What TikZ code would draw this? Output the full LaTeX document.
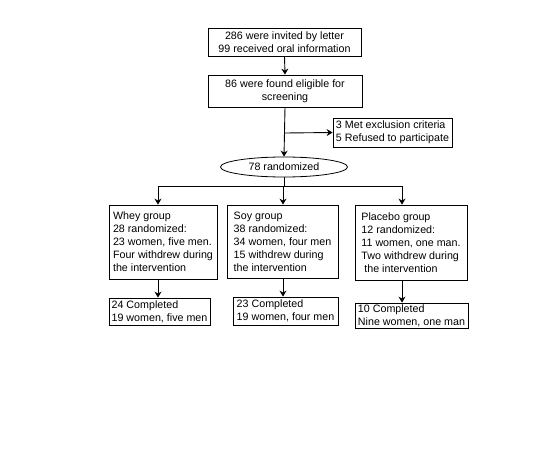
\documentclass[tikz,border=0pt]{standalone}
\usepackage{fontspec}
\setmainfont{Liberation Sans}
\usetikzlibrary{arrows.meta,shapes.geometric}

\begin{document}
\begin{tikzpicture}[x=1pt,y=-1pt,font=\fontsize{10.7}{13}\selectfont,
      box/.style={draw,line width=0.8pt,inner sep=2pt,align=center},
      grp/.style={draw,line width=0.8pt,inner xsep=2pt,inner ysep=1pt,align=left},
      flow/.style={-{Stealth[length=6pt,width=7pt,inset=2pt]},line width=0.9pt},
      link/.style={line width=0.9pt}]
    \useasboundingbox (0,0) rectangle (536,455);
    % enrolment
    \node[box,minimum width=153pt,minimum height=28pt] (invite) at (284.5,42)
      {286 were invited by letter\\99 received oral information};
    \node[box,minimum width=154pt,minimum height=32pt] (eligible) at (285,91)
      {86 were found eligible for\\screening};
    \node[grp,minimum width=119pt,minimum height=29pt] (excl) at (392.5,132.5)
      {3 Met exclusion criteria\\5 Refused to participate};
    \node[draw,ellipse,line width=0.8pt,minimum width=127pt,minimum height=20pt,inner sep=0pt]
      (rand) at (284,167) {78 randomized};
    \draw[flow] (invite.south) -- (eligible.north);
    \draw[flow] (eligible.south) -- (rand.north);
    \coordinate (branch) at (285,133);
    \draw[flow] (branch) -- (excl.west);

    % allocation
    \node[grp,minimum width=108pt,minimum height=74pt] (whey) at (163,242)
      {Whey group\\28 randomized:\\23 women, five men.\\Four withdrew during\\the intervention};
    \node[grp,minimum width=111pt,minimum height=73pt] (soy) at (282.5,241.5)
      {Soy group\\38 randomized:\\34 women, four men\\15 withdrew during\\the intervention};
    \node[grp,minimum width=112pt,minimum height=75pt] (placebo) at (411,242.5)
      {Placebo group\\12 randomized:\\11 women, one man.\\Two withdrew during\\\ the intervention};
    \coordinate (split) at (284,186);
    \coordinate (colW) at (158,186);
    \coordinate (colS) at (283,186);
    \coordinate (colP) at (402,186);
    \draw[link] (rand.south) -- (split);
    \draw[link] (colW) -- (colP);
    \foreach \g/\c in {whey/colW,soy/colS,placebo/colP}{%
      \draw[flow] (\c) -- (\c |- \g.north);
    }

    % follow-up
    \node[grp,minimum width=101pt,minimum height=27pt] (wheyDone) at (159.5,311.5)
      {24 Completed\\19 women, five men};
    \node[grp,minimum width=105pt,minimum height=28pt] (soyDone) at (285.5,311)
      {23 Completed\\19 women, four men};
    \node[grp,minimum width=113pt,minimum height=25pt,inner xsep=1pt] (placeboDone) at (411.5,315.5)
      {10 Completed\\Nine women, one man};
    \foreach \g/\c in {whey/colW,soy/colS,placebo/colP}{%
      \draw[flow] (\c |- \g.south) -- (\c |- \g Done.north);
    }
  \end{tikzpicture}
\end{document}
